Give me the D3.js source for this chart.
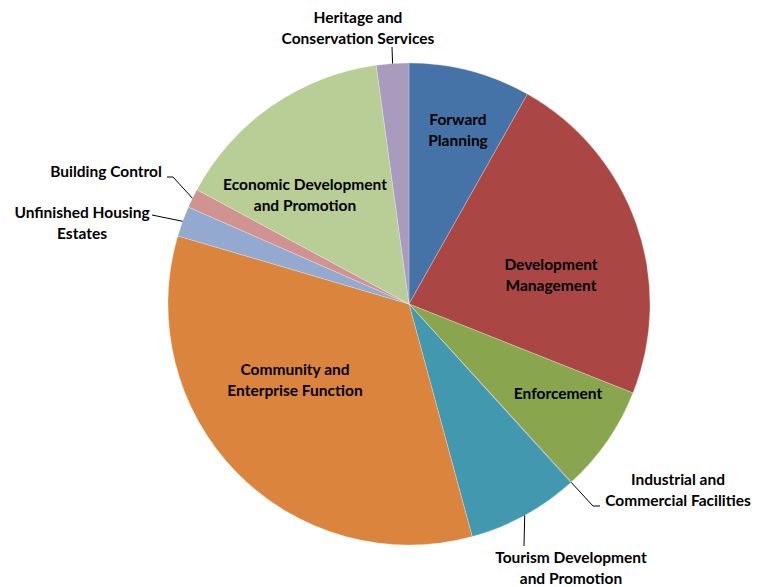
<!DOCTYPE html>
<html>
<head>
<meta charset="utf-8">
<script src="https://cdnjs.cloudflare.com/ajax/libs/d3/7.8.5/d3.min.js"></script>
<style>
  html, body { margin: 0; padding: 0; background: #fff; }
  svg { display: block; }
  text { font-family: Lato, "Open Sans", sans-serif; font-weight: bold; font-size: 15.5px; fill: #000; }
</style>
</head>
<body>
<svg id="chart" width="769" height="587"></svg>
<script>
// Budget shares by service area (percent of total), clockwise from 12 o'clock
const categories = [
  "Forward Planning",
  "Development Management",
  "Enforcement",
  "Industrial and Commercial Facilities",
  "Tourism Development and Promotion",
  "Community and Enterprise Function",
  "Unfinished Housing Estates",
  "Building Control",
  "Economic Development and Promotion",
  "Heritage and Conservation Services"
];
const values = [8.18, 22.85, 7.22, 0.05, 7.5, 33.8, 2.03, 1.28, 14.97, 2.17];
const colors = ["#4572A7", "#AA4643", "#89A54E", "#80699B", "#4198AF", "#DB843D",
                "#93A9CF", "#D19392", "#B9CD96", "#A99BBD"];
// Wrapped label lines per category
const labelLines = [
  ["Forward", "Planning"],
  ["Development", "Management"],
  ["Enforcement"],
  ["Industrial and", "Commercial Facilities"],
  ["Tourism Development", "and Promotion"],
  ["Community and", "Enterprise Function"],
  ["Unfinished Housing", "Estates"],
  ["Building Control"],
  ["Economic Development", "and Promotion"],
  ["Heritage and", "Conservation Services"]
];

// Label layout: text centre offset from pie centre, and leader-line elbow (null = inside label)
const labelPos = [
  {dx: 49, dy: -174, leader: null},
  {dx: 142, dy: -29, leader: null},
  {dx: 149, dy: 90, leader: null},
  {dx: 269, dy: 186, leader: [[184, 202], [191, 202]]},
  {dx: 162, dy: 264, leader: [[115, 242]]},
  {dx: -114, dy: 76, leader: null},
  {dx: -327, dy: -81, leader: [[-257, -89]]},
  {dx: -303, dy: -132, leader: [[-236, -127], [-242, -127]]},
  {dx: -104, dy: -109, leader: null},
  {dx: -51, dy: -276, leader: [[-17, -257]]}
];

const width = 769, height = 587;
const cx = 409, cy = 304, radius = 241;
const lineH = 20.5;

const svg = d3.select("#chart");
const g = svg.append("g").attr("transform", `translate(${cx},${cy})`);

const pie = d3.pie().sort(null).value(d => d.value);
const arc = d3.arc().innerRadius(0).outerRadius(radius);

const data = categories.map((c, i) => ({name: c, value: values[i], color: colors[i], lines: labelLines[i], pos: labelPos[i]}));
const arcs = pie(data);

g.selectAll("path.slice")
  .data(arcs)
  .join("path")
  .attr("class", "slice")
  .attr("d", arc)
  .attr("fill", d => d.data.color)
  .attr("stroke", "#ffffff")
  .attr("stroke-width", 0.5)
  .attr("stroke-opacity", 0.5);

// Leader lines from the arc midpoint to the outside label
arcs.filter(d => d.data.pos.leader).forEach(d => {
  const mid = (d.startAngle + d.endAngle) / 2;
  const start = [radius * Math.sin(mid), -radius * Math.cos(mid)];
  const pts = [start].concat(d.data.pos.leader);
  g.append("path")
    .attr("d", d3.line()(pts))
    .attr("fill", "none")
    .attr("stroke", "#000")
    .attr("stroke-width", 1);
});

// Labels
arcs.forEach(d => {
  const p = d.data.pos;
  const n = d.data.lines.length;
  const t = g.append("text")
    .attr("text-anchor", "middle")
    .attr("x", p.dx)
    .attr("y", p.dy - (n - 1) * lineH / 2);
  d.data.lines.forEach((line, j) => {
    t.append("tspan")
      .attr("x", p.dx)
      .attr("dy", j === 0 ? "0.35em" : lineH)
      .text(line);
  });
});
</script>
</body>
</html>
